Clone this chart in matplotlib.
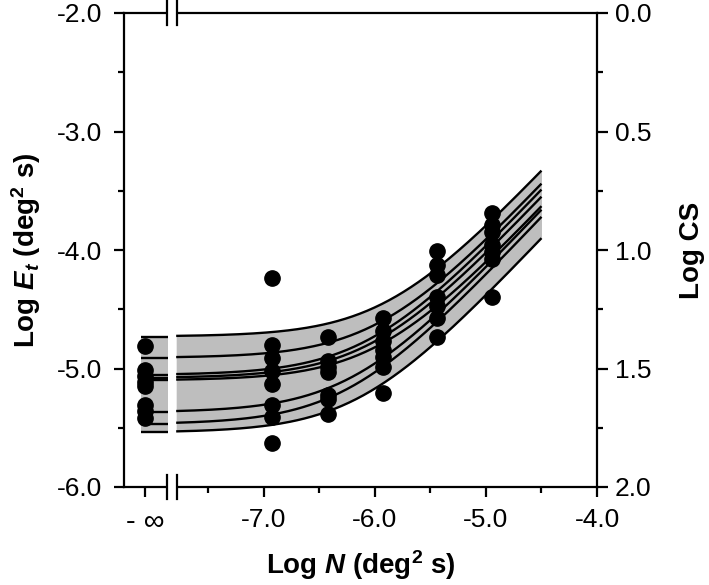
import numpy as np
import matplotlib
matplotlib.use('Agg')
import matplotlib.pyplot as plt
from matplotlib.ticker import FixedLocator

plt.rcParams['font.family'] = ['Liberation Sans', 'DejaVu Sans']
plt.rcParams['mathtext.fontset'] = 'custom'
plt.rcParams['mathtext.rm'] = 'Liberation Sans:bold'
plt.rcParams['mathtext.it'] = 'Liberation Sans:bold:italic'
plt.rcParams['mathtext.bf'] = 'Liberation Sans:bold'

# ---------------- data ----------------
# Log N levels of the noise conditions (first one is zero noise, -inf)
noise_levels = [-np.inf, -6.93, -6.42, -5.93, -5.44, -4.95]
# Log Et thresholds of the observers at each noise level
thr_inf = [-4.81, -5.01, -5.06, -5.11, -5.15, -5.31, -5.36, -5.42]
thr_693 = [-4.24, -4.80, -4.91, -5.02, -5.13, -5.31, -5.41, -5.63]
thr_642 = [-4.73, -4.94, -4.99, -5.03, -5.22, -5.26, -5.38]
thr_593 = [-4.57, -4.68, -4.77, -4.84, -4.90, -4.99, -5.21]
thr_544 = [-4.01, -4.13, -4.21, -4.40, -4.47, -4.57, -4.73]
thr_495 = [-3.69, -3.79, -3.85, -3.96, -4.02, -4.08, -4.40]
thresholds = [thr_inf, thr_693, thr_642, thr_593, thr_544, thr_495]

# fitted curves: Log Et at zero noise and Log Et at Log N = -4.5
curve_zero = [-4.73, -4.91, -5.055, -5.08, -5.10, -5.37, -5.47, -5.54]
curve_end = [-3.33, -3.44, -3.49, -3.55, -3.63, -3.66, -3.72, -3.90]
curve_end_logN = -4.5

xtick_vals = [-7.0, -6.0, -5.0, -4.0]
xtick_labels = ['-7.0', '-6.0', '-5.0', '-4.0']
ytick_vals = [-2.0, -3.0, -4.0, -5.0, -6.0]
ytick_labels = ['-2.0', '-3.0', '-4.0', '-5.0', '-6.0']
cs_ticks = [0.0, 0.5, 1.0, 1.5, 2.0]
cs_labels = ['0.0', '0.5', '1.0', '1.5', '2.0']

# ---------------- layout ----------------
INF_POS = -8.07          # where -inf is drawn on the axis
BREAK_L, BREAK_R = -7.87, -7.78
SEG1 = (-8.11, -7.86)
SEG2 = (-7.79, -4.5)
TICK_FS = 19
LABEL_FS = 20

fig = plt.figure(figsize=(7.09, 5.85), dpi=100)
ax = fig.add_axes([124/709, 98/585, 473/709, 474/585])
ax.set_xlim(-8.26, -4.0)
ax.set_ylim(-6.0, -2.0)

E0 = 10.0 ** np.array(curve_zero)
K = (10.0 ** np.array(curve_end) - E0) / 10.0 ** curve_end_logN

def curves(logn):
    n = 10.0 ** logn
    return np.log10(E0[:, None] + K[:, None] * n[None, :])

band = '#bebebe'
for lo, hi, zero in [(SEG1[0], SEG1[1], True), (SEG2[0], SEG2[1], False)]:
    xs = np.linspace(lo, hi, 200)
    if zero:
        ys = np.repeat(np.log10(E0)[:, None], xs.size, axis=1)
    else:
        ys = curves(xs)
    ax.fill_between(xs, ys.min(axis=0), ys.max(axis=0), color=band, lw=0, zorder=1)
    for row in ys:
        ax.plot(xs, row, color='black', lw=1.7, zorder=2, solid_capstyle='butt')

for lvl, vals in zip(noise_levels, thresholds):
    xpos = INF_POS if np.isinf(lvl) else lvl
    ax.plot([xpos] * len(vals), vals, 'o', color='black', ms=11, zorder=4)

# axes styling
for s in ['left', 'bottom', 'top', 'right']:
    ax.spines[s].set_linewidth(1.6)
ax.spines['right'].set_visible(False)
ax.set_xticks([INF_POS] + xtick_vals)
ax.set_xticklabels(['- \u221e'] + xtick_labels)
ax.xaxis.set_minor_locator(FixedLocator([-7.5, -6.5, -5.5, -4.5]))
ax.set_yticks(ytick_vals)
ax.set_yticklabels(ytick_labels)
ax.yaxis.set_minor_locator(FixedLocator([-2.5, -3.5, -4.5, -5.5]))
ax.tick_params(which='both', direction='out', width=1.6, labelsize=TICK_FS)
ax.tick_params(which='major', length=7)
ax.tick_params(which='minor', length=4)
ax.tick_params(axis='y', which='both', right=False, pad=9)
ax.tick_params(axis='x', which='both', top=False, pad=8)
for lab in ax.get_xticklabels()[:1]:
    lab.set_fontsize(TICK_FS + 2)

sec = ax.secondary_yaxis('right', functions=(lambda e: (-2.0 - e) / 2.0,
                                             lambda c: -2.0 - 2.0 * c))
sec.spines['right'].set_linewidth(1.6)
sec.set_yticks(cs_ticks)
sec.set_yticklabels(cs_labels)
sec.yaxis.set_minor_locator(FixedLocator([0.25, 0.75, 1.25, 1.75]))
sec.tick_params(which='both', direction='out', width=1.6, labelsize=TICK_FS, pad=5)
sec.tick_params(which='major', length=8)
sec.tick_params(which='minor', length=4)
sec.set_ylabel('Log CS', fontsize=LABEL_FS, fontweight='bold', labelpad=20)

ax.set_xlabel('Log $N$ (deg$^2$ s)', fontsize=LABEL_FS, fontweight='bold', labelpad=9)
ax.set_ylabel('Log $E_t$ (deg$^2$ s)', fontsize=LABEL_FS, fontweight='bold', labelpad=10)

# axis breaks
for yv in (-2.0, -6.0):
    ax.plot([BREAK_L + 0.01, BREAK_R - 0.01], [yv, yv], color='white', lw=3,
            clip_on=False, zorder=5, solid_capstyle='butt')
    for bx in (BREAK_L, BREAK_R):
        ax.plot([bx, bx], [yv - 0.1, yv + 0.1], color='black', lw=1.6,
                clip_on=False, zorder=6)

fig.savefig('out.png', dpi=100)
